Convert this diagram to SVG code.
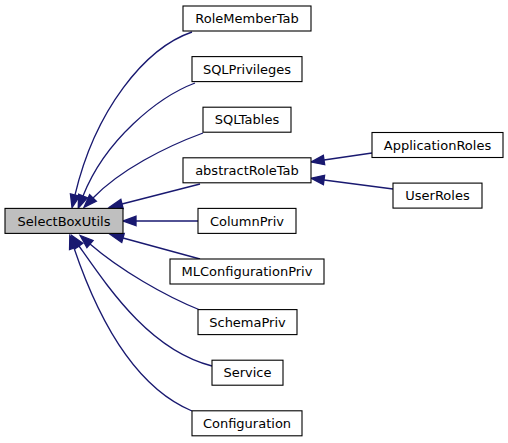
<svg xmlns="http://www.w3.org/2000/svg" width="508" height="443" viewBox="0 0 508 443">
<style>
.n rect{fill:#ffffff;stroke:#000000;stroke-width:1.1}
.n text{font-family:"DejaVu Sans","Liberation Sans",sans-serif;font-size:13px;text-anchor:middle;fill:#000000}
#edges path{fill:none;stroke:#191970;stroke-width:1.33}
</style>
<defs>
<marker id="ah" markerUnits="userSpaceOnUse" markerWidth="15" markerHeight="12" refX="0" refY="5" orient="auto" overflow="visible">
<path d="M0,0.3 L13,5 L0,9.7 z" fill="#191970" stroke="#191970" stroke-width="1.33"/>
</marker>
</defs>
<rect width="508" height="443" fill="#ffffff"/>
<g id="edges">
<path d="M192,32 C145,48 95,110 75,195" marker-end="url(#ah)"/>
<path d="M195,83 C158,97 105,140 83,196" marker-end="url(#ah)"/>
<path d="M203,133 C165,147 120,170 93,198" marker-end="url(#ah)"/>
<path d="M200,184 L122,204" marker-end="url(#ah)"/>
<path d="M198,221 L136,221" marker-end="url(#ah)"/>
<path d="M200,259 L123,238" marker-end="url(#ah)"/>
<path d="M200,310 C165,296 120,270 90,244" marker-end="url(#ah)"/>
<path d="M212,366 C150,350 110,290 79,246" marker-end="url(#ah)"/>
<path d="M192,411 C130,385 95,310 74,248" marker-end="url(#ah)"/>
<path d="M372,153 L324,160" marker-end="url(#ah)"/>
<path d="M393,189 L324,180" marker-end="url(#ah)"/>
</g>
<g id="SelectBoxUtils" class="n"><rect x="5" y="208.4" width="118" height="25" style="fill:#bfbfbf"/><text x="64" y="225.6">SelectBoxUtils</text></g>
<g id="RoleMemberTab" class="n"><rect x="183" y="6" width="128" height="25"/><text x="247" y="23.2">RoleMemberTab</text></g>
<g id="SQLPrivileges" class="n"><rect x="192" y="56.6" width="110" height="25"/><text x="247" y="73.8">SQLPrivileges</text></g>
<g id="SQLTables" class="n"><rect x="203" y="107.2" width="88" height="25"/><text x="247" y="124.4">SQLTables</text></g>
<g id="abstractRoleTab" class="n"><rect x="183" y="157.8" width="128" height="25"/><text x="247" y="175">abstractRoleTab</text></g>
<g id="ColumnPriv" class="n"><rect x="198" y="208.4" width="98" height="25"/><text x="247" y="225.6">ColumnPriv</text></g>
<g id="MLConfigurationPriv" class="n"><rect x="170" y="259" width="154" height="25"/><text x="247" y="276.2">MLConfigurationPriv</text></g>
<g id="SchemaPriv" class="n"><rect x="198" y="309.6" width="99" height="25"/><text x="247.5" y="326.8">SchemaPriv</text></g>
<g id="Service" class="n"><rect x="212" y="360.2" width="71" height="25"/><text x="247.5" y="377.4">Service</text></g>
<g id="Configuration" class="n"><rect x="192" y="410.8" width="110" height="25"/><text x="247" y="428">Configuration</text></g>
<g id="ApplicationRoles" class="n"><rect x="372" y="132.5" width="131" height="25"/><text x="437.5" y="149.7">ApplicationRoles</text></g>
<g id="UserRoles" class="n"><rect x="393" y="183.1" width="89" height="25"/><text x="437.5" y="200.3">UserRoles</text></g>
</svg>
